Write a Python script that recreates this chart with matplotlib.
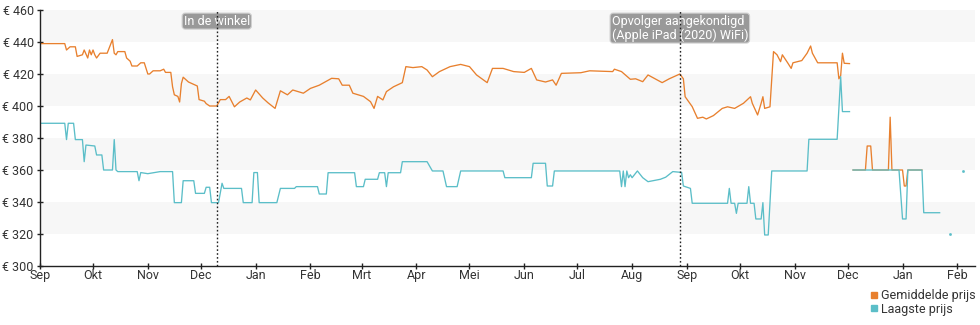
import matplotlib
matplotlib.use('Agg')
import numpy as np
import matplotlib.pyplot as plt
import matplotlib.dates as mdates
import matplotlib.transforms as mtransforms
from matplotlib.lines import Line2D
from matplotlib.ticker import FuncFormatter
from datetime import datetime, timedelta

plt.rcParams['font.family'] = ['Roboto', 'DejaVu Sans']

# Prijshistorie, dagen geteld vanaf 1 september 2019
START = datetime(2019, 9, 1)

gem_dagen_1 = [0, 14, 15, 17, 20, 21, 24, 25, 27, 28, 29, 30, 31, 32, 34, 38, 41, 42, 43, 44,
               48, 49, 51, 52, 55, 57, 59, 61, 62, 64, 68, 70, 71, 74, 75, 76, 78, 79, 80, 81,
               84, 88, 89, 90, 93, 94, 96, 100, 102, 105, 107, 110, 113, 117, 119, 122, 126, 129, 133, 136,
               140, 143, 149, 153, 158, 165, 169, 171, 175, 177, 183, 187, 189, 191, 194, 196, 200, 205, 207, 211,
               216, 219, 222, 226, 232, 238, 243, 247, 253, 256, 262, 268, 274, 278, 281, 286, 290, 292, 295, 306,
               311, 324, 325, 329, 334, 337, 341, 344, 348, 352, 356, 362, 364, 365, 369, 372, 375, 377, 381, 386,
               389, 393, 398, 402, 403, 406, 408, 409, 410, 413, 415, 417, 419, 420, 423, 425, 426, 431, 434, 436,
               437, 440, 451, 452, 453, 454, 455, 458]
gem_prijs_1 = [439, 439, 435, 437, 437, 431, 432, 435, 430, 435, 432, 435, 432, 430, 433, 433, 441.5, 433, 432, 434,
               434, 430, 428, 425, 425, 427, 427, 420, 420, 422, 422, 423, 421, 421, 412, 407, 406, 402.5, 414, 418,
               415, 413, 412.5, 404, 403, 401.5, 400, 400, 404, 404, 406, 399.5, 402.5, 405, 403.8, 410, 405, 402, 398.5, 409.5,
               407, 410, 408, 411, 413, 417.3, 417, 413, 413, 408, 406, 402.7, 398.5, 406, 403.8, 409, 412, 414.6, 424.6, 424,
               424.6, 422.5, 418.3, 421.5, 424.6, 426, 424.6, 419.4, 414.6, 423.5, 423.5, 421.5, 421, 423.5, 416.3, 415, 416.3, 413, 420.4, 420.8,
               422, 421.5, 423, 421.5, 416.7, 417, 415.2, 419.4, 417, 414.6, 417, 420, 417, 405.8, 399.6, 392.3, 393, 391.9, 394, 398.5,
               399.5, 398.5, 401.7, 405.8, 401.7, 394.4, 401.7, 405.8, 398.5, 399.5, 434, 432, 427.7, 432, 427, 423.5, 427, 428.4, 433, 437.5,
               433, 427, 427, 417, 419, 433, 426.7, 426.5]

gem_dagen_2 = [460, 467, 468, 470, 471, 480, 481, 482, 488, 489, 490, 491, 499]
gem_prijs_2 = [360, 360, 375, 375, 360, 360, 393, 360, 360, 350, 350, 360, 360]

laag_dagen_1 = [0, 14, 15, 16, 19, 20, 24, 25, 26, 31, 32, 35, 36, 41, 42, 43, 44, 55, 56, 57,
                61, 68, 75, 76, 80, 81, 87, 88, 93, 94, 96, 97, 101, 103, 104, 114, 115, 120, 121, 123,
                124, 134, 136, 144, 145, 157, 158, 162, 163, 178, 179, 183, 184, 191, 192, 195, 196, 197, 204, 205,
                219, 222, 228, 230, 236, 238, 262, 263, 278, 279, 286, 287, 290, 291, 328, 329, 330, 331, 332, 333,
                334, 335, 338, 341, 344, 351, 354, 358, 363, 364, 368, 369, 389, 390, 391, 393, 394, 395, 400, 401,
                402, 404, 405, 408, 409, 410, 412, 414, 434, 435, 451, 453, 454, 458]
laag_prijs_1 = [389.2, 389.2, 379, 389.2, 389.2, 379, 379, 365.2, 375.6, 375, 369.4, 369.4, 360, 360, 379, 360, 359, 359, 353.3, 358.4,
                357.7, 359, 359, 339.6, 339.6, 353.3, 353.3, 345.4, 345.4, 349.2, 349.2, 339.6, 339.6, 351.7, 348.5, 348.5, 339.6, 339.6, 358.4, 358.4,
                339.6, 339.6, 348.5, 348.5, 349.6, 349.6, 345, 345, 358.3, 358.3, 349.6, 349.6, 354.2, 354.2, 358.3, 358.3, 349.6, 358.3, 358.3, 365.2,
                365.2, 359.4, 359.4, 349.6, 349.6, 359.4, 359.4, 355.2, 355.2, 364.2, 364.2, 350, 350, 359.4, 359.4, 349.6, 359.4, 349.6, 359.4, 355.2,
                357, 355.2, 359.4, 355.2, 352.7, 354.2, 355.5, 359, 358.5, 350, 348.5, 339.2, 339.2, 348.5, 339.2, 339.2, 332.9, 339.2, 339.2, 349.6,
                339.2, 339.2, 329.4, 329.4, 339.6, 319.4, 319.4, 359.4, 359.4, 379.2, 379.2, 418.3, 396.5, 396.5]

laag_dagen_2 = [460, 486, 488, 490, 491, 499, 500, 509]
laag_prijs_2 = [360, 360, 329.4, 329.4, 360, 360, 333.3, 333.3]

laag_los_dagen = [515, 522]
laag_los_prijs = [320, 359.4]

maanden = ['Jan', 'Feb', 'Mrt', 'Apr', 'Mei', 'Jun', 'Jul', 'Aug', 'Sep', 'Okt', 'Nov', 'Dec']
prijs_ticks = [300, 320, 340, 360, 380, 400, 420, 440, 460]

gebeurtenis_data = [datetime(2019, 12, 10), datetime(2020, 8, 28)]
gebeurtenis_labels = ['In de winkel', 'Opvolger aangekondigd\n(Apple iPad (2020) WiFi)']

ORANJE = '#e8802e'
TURKOOIS = '#5bbec8'


def naar_datum(dagen):
    return [START + timedelta(days=d) for d in dagen]


fig = plt.figure(figsize=(9.8, 3.25), dpi=100)
ax = fig.add_axes([40 / 980, 59 / 325, 935 / 980, 256 / 325])

# afwisselende achtergrondbanden
for onder in range(300, 460, 20):
    if (onder // 20) % 2 == 0:
        ax.axhspan(onder, onder + 20, color='#f7f7f7', lw=0, zorder=0)

ax.plot(naar_datum(gem_dagen_1), gem_prijs_1, color=ORANJE, lw=0.95, zorder=2)
ax.plot(naar_datum(gem_dagen_2), gem_prijs_2, color=ORANJE, lw=0.95, zorder=2)
ax.plot(naar_datum(laag_dagen_1), laag_prijs_1, color=TURKOOIS, lw=0.95, zorder=2.1)
ax.plot(naar_datum(laag_dagen_2), laag_prijs_2, color=TURKOOIS, lw=0.95, zorder=2.1)
ax.plot(naar_datum(laag_los_dagen), laag_los_prijs, ls='none', marker='s', ms=0.9,
        color=TURKOOIS, zorder=2.1)

trans = mtransforms.blended_transform_factory(ax.transData, ax.transAxes)
for datum, label in zip(gebeurtenis_data, gebeurtenis_labels):
    ax.axvline(datum, color='#222222', ls=(0, (1.2, 1.6)), lw=1, zorder=3)
    ax.text(datum, 0.982, label, transform=trans, ha='center', va='top', multialignment='left',
            color='white', fontsize=9, linespacing=1.05, zorder=2.5,
            bbox=dict(boxstyle='round,pad=0.12,rounding_size=0.25', fc='#999999', ec='#d0d0d0', lw=0.8))

ax.set_xlim(START, START + timedelta(days=529))
ax.set_ylim(300, 460)

ax.xaxis.set_major_locator(mdates.MonthLocator())
ax.xaxis.set_major_formatter(FuncFormatter(lambda x, pos: maanden[mdates.num2date(x).month - 1]))
ax.set_yticks(prijs_ticks)
ax.set_yticklabels([f'€ {p}' for p in prijs_ticks])

for kant in ['top', 'right']:
    ax.spines[kant].set_visible(False)
for kant in ['left', 'bottom']:
    ax.spines[kant].set_color('#222222')
    ax.spines[kant].set_linewidth(1)

ax.tick_params(axis='both', direction='inout', length=5, width=1, color='#222222',
               labelcolor='#333333', labelsize=9)
ax.tick_params(axis='x', pad=0)
ax.tick_params(axis='y', pad=2)

handles = [Line2D([], [], ls='none', marker='s', ms=4, color=ORANJE),
           Line2D([], [], ls='none', marker='s', ms=4, color=TURKOOIS)]
leg = fig.legend(handles, ['Gemiddelde prijs', 'Laagste prijs'], loc='upper right',
                 bbox_to_anchor=(976 / 980, 1 - 289 / 325), frameon=False, fontsize=9,
                 handlelength=0.6, handletextpad=0.3, labelspacing=0.05,
                 borderaxespad=0, borderpad=0, alignment='left')
for t in leg.get_texts():
    t.set_color('#333333')

fig.savefig('out.png', dpi=100)
